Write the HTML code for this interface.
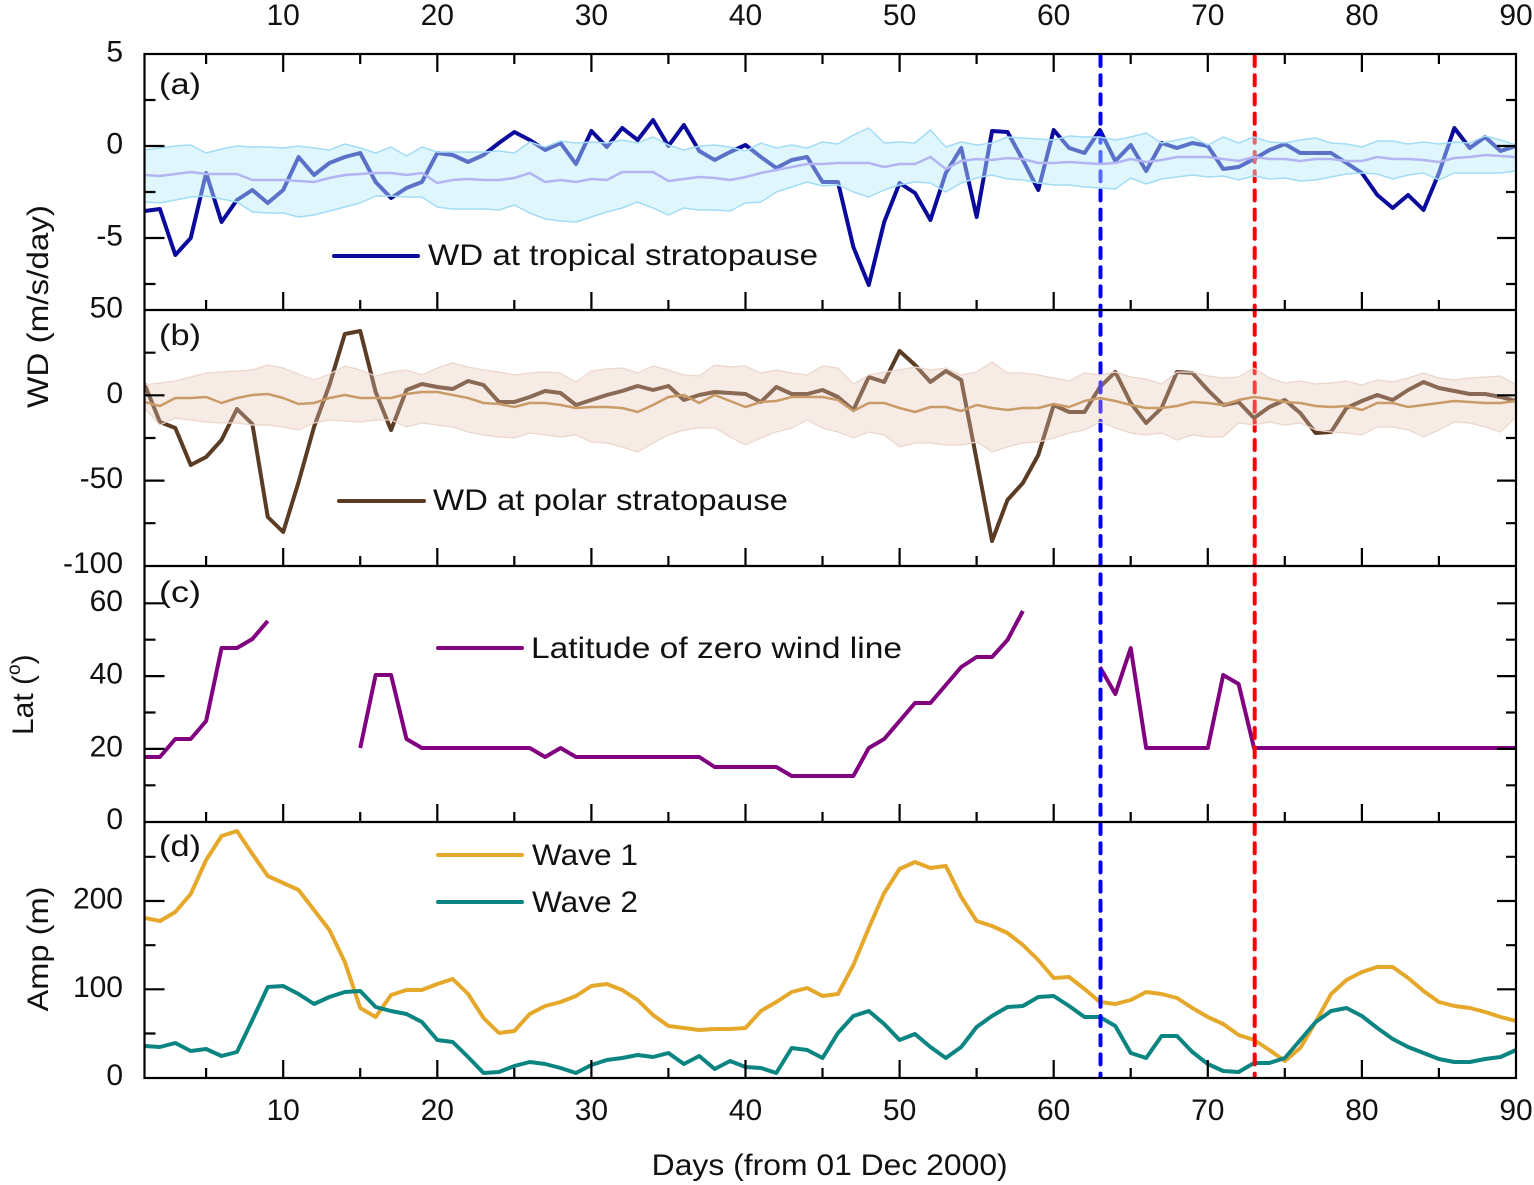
<!DOCTYPE html>
<html><head><meta charset="utf-8"><style>
html,body{margin:0;padding:0;background:#fff}
svg{display:block}
.d{vector-effect:non-scaling-stroke;fill:none;stroke-linejoin:round;stroke-linecap:butt}
text{font-family:"Liberation Sans",Arial,sans-serif;font-size:30px;fill:#111}
</style></head><body>
<svg width="1534" height="1185" viewBox="0 0 1534 1185" xmlns="http://www.w3.org/2000/svg">
<rect width="1534" height="1185" fill="#fff"/>
<defs>
<clipPath id="cp"><rect x="144.5" y="54" width="1371.5" height="1024"/></clipPath>
<g id="bt"><path d="M283.2 0V-18M437.3 0V-18M591.4 0V-18M745.5 0V-18M899.6 0V-18M1053.7 0V-18M1207.8 0V-18M1361.9 0V-18M206.1 0V-10M360.2 0V-10M514.3 0V-10M668.4 0V-10M822.5 0V-10M976.6 0V-10M1130.7 0V-10M1284.8 0V-10M1438.9 0V-10" stroke="#000" stroke-width="2.2" fill="none"/></g>
</defs>

<g clip-path="url(#cp)">
<g transform="matrix(15.41 0 0 1 129.09 0)">
<polyline class="d" stroke="#0a0a9c" stroke-width="4" points="1,211 2,209 3,255 4,238 5,173 6,222 7,200 8,190 9,203 10,190 11,157 12,175 13,163 14,157 15,153 16,182 17,198 18,188 19,182 20,153 21,155 22,162 23,155 24,143 25,132 26,140 27,150 28,143 29,164 30,131 31,147 32,128 33,140 34,120 35,146 36,125 37,151 38,160 39,152 40,145 41,157 42,168 43,160 44,157 45,182 46,182 47,247 48,285 49,222 50,183 51,193 52,220 53,173 54,148 55,217 56,131 57,132 58,160 59,190 60,130 61,148 62,153 63,130 64,161 65,145 66,171 67,143 68,148 69,143 70,146 71,169 72,167 73,159 74,150 75,144 76,153 77,153 78,153 79,163 80,173 81,195 82,208 83,195 84,210 85,173 86,128 87,148 88,137 89,151 90,146"/>
<polyline class="d" stroke="#5a3c24" stroke-width="4" points="1,384 2,422 3,428 4,465 5,457 6,440 7,409 8,424 9,517 10,532 11,482 12,427 13,385 14,334 15,331 16,392 17,430 18,390 19,384 20,387 21,389 22,381 23,385 24,402 25,402 26,397 27,391 28,393 29,405 30,400 31,395 32,391 33,386 34,390 35,386 36,400 37,395 38,392 39,393 40,394 41,402 42,387 43,394 44,394 45,390 46,397 47,410 48,377 49,382 50,351 51,365 52,382 53,371 54,380 55,460 56,541 57,500 58,483 59,455 60,405 61,412 62,412 63,387 64,372 65,403 66,423 67,408 68,372 69,373 70,390 71,405 72,402 73,418 74,407 75,400 76,413 77,433 78,432 79,408 80,401 81,395 82,400 83,390 84,382 85,388 86,391 87,394 88,394 89,397 90,401"/>
<polyline class="d" stroke="#800080" stroke-width="4" points="1,757 2,757 3,739 4,739 5,721 6,648 7,648 8,639 9,621"/>
<polyline class="d" stroke="#800080" stroke-width="4" points="15,748 16,675 17,675 18,739 19,748 20,748 21,748 22,748 23,748 24,748 25,748 26,748 27,757 28,748 29,757 30,757 31,757 32,757 33,757 34,757 35,757 36,757 37,757 38,767 39,767 40,767 41,767 42,767 43,776 44,776 45,776 46,776 47,776 48,748 49,739 50,721 51,703 52,703 53,685 54,667 55,657 56,657 57,640 58,611"/>
<polyline class="d" stroke="#800080" stroke-width="4" points="63,667 64,694 65,648 66,748 67,748 68,748 69,748 70,748 71,675 72,684 73,748 90,748"/>
<polyline class="d" stroke="#e6a82b" stroke-width="4" points="1,918 2,921 3,912 4,894 5,860 6,836 7,831 8,854 9,876 10,883 11,890 12,910 13,930 14,962 15,1008 16,1017 17,995 18,990 19,990 20,984 21,979 22,994 23,1018 24,1033 25,1031 26,1014 27,1006 28,1002 29,996 30,986 31,984 32,990 33,1000 34,1015 35,1026 36,1028 37,1030 38,1029 39,1029 40,1028 41,1011 42,1002 43,992 44,988 45,996 46,994 47,965 48,928 49,893 50,869 51,862 52,868 53,866 54,897 55,921 56,926 57,933 58,945 59,960 60,978 61,977 62,989 63,1002 64,1004 65,1000 66,992 67,994 68,998 69,1008 70,1017 71,1024 72,1035 73,1040 74,1050 75,1061 76,1048 77,1022 78,994 79,980 80,972 81,967 82,967 83,978 84,991 85,1002 86,1006 87,1008 88,1012 89,1017 90,1021"/>
<polyline class="d" stroke="#0b8582" stroke-width="4" points="1,1046 2,1047 3,1043 4,1051 5,1049 6,1056 7,1052 8,1020 9,987 10,986 11,994 12,1004 13,997 14,992 15,991 16,1007 17,1011 18,1014 19,1022 20,1040 21,1042 22,1057 23,1073 24,1072 25,1066 26,1062 27,1064 28,1068 29,1073 30,1065 31,1060 32,1058 33,1055 34,1057 35,1053 36,1064 37,1056 38,1069 39,1061 40,1067 41,1068 42,1073 43,1048 44,1050 45,1058 46,1033 47,1016 48,1011 49,1024 50,1040 51,1034 52,1047 53,1058 54,1047 55,1027 56,1016 57,1007 58,1006 59,997 60,996 61,1006 62,1017 63,1017 64,1026 65,1053 66,1058 67,1036 68,1036 69,1052 70,1064 71,1071 72,1072 73,1063 74,1063 75,1058 76,1040 77,1022 78,1011 79,1008 80,1016 81,1028 82,1039 83,1047 84,1053 85,1059 86,1062 87,1062 88,1059 89,1057 90,1050"/>
</g>

<line x1="1100.5" y1="56" x2="1100.5" y2="1078" stroke="#0000ff" stroke-width="4" stroke-dasharray="10 9.2" stroke-linecap="round"/>
<line x1="1254.7" y1="56" x2="1254.7" y2="1078" stroke="#ff0000" stroke-width="4" stroke-dasharray="10 9.2" stroke-linecap="round"/>

<g transform="matrix(15.41 0 0 1 129.09 0)">
<polygon fill="rgb(185,235,250)" fill-opacity="0.46" stroke="none" points="1,150 2,148 3,146 4,145 5,153 6,149 7,146 8,147 9,147 10,148 11,146 12,148 13,150 14,144 15,148 16,153 17,147 18,156 19,147 20,152 21,152 22,152 23,152 24,151 25,153 26,142 27,147 28,141 29,143 30,142 31,143 32,140 33,143 34,137 35,145 36,150 37,146 38,145 39,147 40,151 41,143 42,148 43,145 44,148 45,142 46,144 47,135 48,128 49,143 50,142 51,143 52,130 53,147 54,142 55,145 56,143 57,137 58,138 59,139 60,140 61,136 62,137 63,137 64,140 65,137 66,133 67,143 68,140 69,137 70,145 71,137 72,143 73,137 74,142 75,143 76,140 77,138 78,143 79,144 80,147 81,141 82,141 83,144 84,142 85,144 86,142 87,143 88,136 89,140 90,145 90,171 89,173 88,173 87,173 86,173 85,180 84,173 83,175 82,179 81,174 80,173 79,174 78,177 77,180 76,181 75,178 74,179 73,176 72,180 71,176 70,177 69,175 68,177 67,179 66,184 65,178 64,189 63,188 62,187 61,185 60,185 59,183 58,180 57,179 56,175 55,178 54,183 53,192 52,183 51,182 50,185 49,190 48,197 47,192 46,185 45,186 44,182 43,187 42,192 41,202 40,203 39,211 38,210 37,210 36,208 35,215 34,208 33,202 32,208 31,212 30,217 29,222 28,221 27,219 26,213 25,205 24,210 23,209 22,209 21,209 20,207 19,197 18,197 17,196 16,196 15,203 14,207 13,211 12,215 11,217 10,213 9,213 8,212 7,202 6,199 5,196 4,197 3,200 2,203 1,202"/>
<polyline class="d" stroke="#a3dcf5" stroke-width="1.5" points="1,150 2,148 3,146 4,145 5,153 6,149 7,146 8,147 9,147 10,148 11,146 12,148 13,150 14,144 15,148 16,153 17,147 18,156 19,147 20,152 21,152 22,152 23,152 24,151 25,153 26,142 27,147 28,141 29,143 30,142 31,143 32,140 33,143 34,137 35,145 36,150 37,146 38,145 39,147 40,151 41,143 42,148 43,145 44,148 45,142 46,144 47,135 48,128 49,143 50,142 51,143 52,130 53,147 54,142 55,145 56,143 57,137 58,138 59,139 60,140 61,136 62,137 63,137 64,140 65,137 66,133 67,143 68,140 69,137 70,145 71,137 72,143 73,137 74,142 75,143 76,140 77,138 78,143 79,144 80,147 81,141 82,141 83,144 84,142 85,144 86,142 87,143 88,136 89,140 90,145"/>
<polyline class="d" stroke="#a3dcf5" stroke-width="1.5" points="90,171 89,173 88,173 87,173 86,173 85,180 84,173 83,175 82,179 81,174 80,173 79,174 78,177 77,180 76,181 75,178 74,179 73,176 72,180 71,176 70,177 69,175 68,177 67,179 66,184 65,178 64,189 63,188 62,187 61,185 60,185 59,183 58,180 57,179 56,175 55,178 54,183 53,192 52,183 51,182 50,185 49,190 48,197 47,192 46,185 45,186 44,182 43,187 42,192 41,202 40,203 39,211 38,210 37,210 36,208 35,215 34,208 33,202 32,208 31,212 30,217 29,222 28,221 27,219 26,213 25,205 24,210 23,209 22,209 21,209 20,207 19,197 18,197 17,196 16,196 15,203 14,207 13,211 12,215 11,217 10,213 9,213 8,212 7,202 6,199 5,196 4,197 3,200 2,203 1,202"/>
<polyline class="d" stroke="#b3b5f3" stroke-width="2.5" points="1,175 2,176 3,174 4,172 5,174 6,174 7,174 8,180 9,180 10,180 11,181 12,182 13,178 14,175 15,174 16,173 17,173 18,175 19,173 20,183 21,180 22,179 23,180 24,180 25,178 26,173 27,182 28,180 29,182 30,179 31,180 32,172 33,172 34,172 35,181 36,179 37,177 38,178 39,180 40,177 41,173 42,170 43,167 44,164 45,164 46,163 47,163 48,163 49,167 50,164 51,164 52,157 53,169 54,161 55,159 56,160 57,158 58,159 59,163 60,163 61,162 62,163 63,164 64,163 65,159 66,162 67,160 68,157 69,157 70,157 71,159 72,161 73,157 74,159 75,159 76,161 77,159 78,159 79,161 80,161 81,157 82,159 83,159 84,160 85,162 86,158 87,157 88,155 89,156 90,157"/>

<polygon fill="rgb(231,196,178)" fill-opacity="0.34" stroke="none" points="1,385 2,383 3,381 4,377 5,373 6,372 7,371 8,370 9,365 10,368 11,374 12,380 13,374 14,366 15,370 16,376 17,372 18,370 19,375 20,368 21,363 22,367 23,370 24,372 25,375 26,373 27,372 28,373 29,382 30,371 31,369 32,368 33,373 34,366 35,370 36,375 37,376 38,365 39,367 40,366 41,373 42,370 43,373 44,375 45,366 46,368 47,384 48,375 49,372 50,370 51,367 52,370 53,368 54,375 55,372 56,362 57,373 58,373 59,375 60,378 61,381 62,373 63,375 64,372 65,377 66,379 67,384 68,372 69,372 70,376 71,378 72,377 73,368 74,378 75,383 76,381 77,384 78,383 79,381 80,385 81,380 82,382 83,378 84,373 85,378 86,380 87,378 88,377 89,376 90,385 90,417 89,432 88,427 87,423 86,422 85,430 84,437 83,430 82,427 81,427 80,435 79,433 78,432 77,430 76,423 75,425 74,422 73,425 72,423 71,437 70,437 69,435 68,440 67,433 66,435 65,433 64,428 63,422 62,430 61,433 60,438 59,442 58,443 57,447 56,452 55,442 54,445 53,445 52,443 51,443 50,447 49,435 48,432 47,438 46,432 45,428 44,420 43,428 42,432 41,438 40,445 39,437 38,428 37,428 36,430 35,435 34,443 33,452 32,447 31,443 30,442 29,435 28,437 27,435 26,433 25,438 24,437 23,435 22,432 21,427 20,425 19,423 18,427 17,420 16,420 15,422 14,421 13,420 12,423 11,430 10,427 9,425 8,425 7,423 6,423 5,422 4,420 3,418 2,425 1,408"/>
<polyline class="d" stroke="#ecd6cc" stroke-width="1.2" points="1,385 2,383 3,381 4,377 5,373 6,372 7,371 8,370 9,365 10,368 11,374 12,380 13,374 14,366 15,370 16,376 17,372 18,370 19,375 20,368 21,363 22,367 23,370 24,372 25,375 26,373 27,372 28,373 29,382 30,371 31,369 32,368 33,373 34,366 35,370 36,375 37,376 38,365 39,367 40,366 41,373 42,370 43,373 44,375 45,366 46,368 47,384 48,375 49,372 50,370 51,367 52,370 53,368 54,375 55,372 56,362 57,373 58,373 59,375 60,378 61,381 62,373 63,375 64,372 65,377 66,379 67,384 68,372 69,372 70,376 71,378 72,377 73,368 74,378 75,383 76,381 77,384 78,383 79,381 80,385 81,380 82,382 83,378 84,373 85,378 86,380 87,378 88,377 89,376 90,385"/>
<polyline class="d" stroke="#ecd6cc" stroke-width="1.2" points="1,408 2,425 3,418 4,420 5,422 6,423 7,423 8,425 9,425 10,427 11,430 12,423 13,420 14,421 15,422 16,420 17,420 18,427 19,423 20,425 21,427 22,432 23,435 24,437 25,438 26,433 27,435 28,437 29,435 30,442 31,443 32,447 33,452 34,443 35,435 36,430 37,428 38,428 39,437 40,445 41,438 42,432 43,428 44,420 45,428 46,432 47,438 48,432 49,435 50,447 51,443 52,443 53,445 54,445 55,442 56,452 57,447 58,443 59,442 60,438 61,433 62,430 63,422 64,428 65,433 66,435 67,433 68,440 69,435 70,437 71,437 72,423 73,425 74,422 75,425 76,423 77,430 78,432 79,433 80,435 81,427 82,427 83,430 84,437 85,430 86,422 87,423 88,427 89,432 90,417"/>
<polyline class="d" stroke="#c99b68" stroke-width="2.5" points="1,402 2,406 3,398 4,398 5,397 6,403 7,398 8,395 9,394 10,398 11,404 12,403 13,398 14,395 15,398 16,398 17,398 18,394 19,392 20,392 21,395 22,398 23,403 24,404 25,407 26,403 27,403 28,405 29,408 30,407 31,407 32,408 33,412 34,405 35,397 36,395 37,403 38,395 39,401 40,407 41,402 42,401 43,397 44,397 45,397 46,400 47,411 48,403 49,403 50,408 51,412 52,407 53,407 54,411 55,405 56,408 57,410 58,408 59,408 60,404 61,407 62,401 63,398 64,401 65,405 66,408 67,408 68,406 69,402 70,403 71,405 72,400 73,397 74,399 75,402 76,403 77,406 78,407 79,406 80,410 81,403 82,403 83,407 84,405 85,403 86,401 87,402 88,403 89,403 90,401"/>
</g>
</g>

<g stroke="#000" stroke-width="2.2" fill="none">
<rect x="144.5" y="54" width="1371.5" height="1024"/>
<path d="M144.5 310H1516M144.5 566H1516M144.5 822H1516"/>
<path d="M283.2 54V72M437.3 54V72M591.4 54V72M745.5 54V72M899.6 54V72M1053.7 54V72M1207.8 54V72M1361.9 54V72M206.1 54V64M360.2 54V64M514.3 54V64M668.4 54V64M822.5 54V64M976.6 54V64M1130.7 54V64M1284.8 54V64M1438.9 54V64"/>
<path d="M144.5 146H164.5M144.5 238H164.5M144.5 100H155.5M144.5 192H155.5M144.5 284H155.5
M1516 146H1497M1516 238H1497M1516 100H1506M1516 192H1506M1516 284H1506
M144.5 395.3H164.5M144.5 480.6H164.5M144.5 352.7H155.5M144.5 438H155.5M144.5 523.2H155.5
M1516 395.3H1497M1516 480.6H1497M1516 352.7H1506M1516 438H1506M1516 523.2H1506
M144.5 603.3H164.5M144.5 676.1H164.5M144.5 748.9H164.5M144.5 639.7H155.5M144.5 712.5H155.5M144.5 785.3H155.5
M1516 603.3H1497M1516 676.1H1497M1516 748.9H1497M1516 639.7H1506M1516 712.5H1506M1516 785.3H1506
M144.5 901H164.5M144.5 989.3H164.5M144.5 856.8H155.5M144.5 945.2H155.5M144.5 1033.5H155.5
M1516 901H1497M1516 989.3H1497M1516 856.8H1506M1516 945.2H1506M1516 1033.5H1506"/>
</g>
<use href="#bt" y="310"/>
<use href="#bt" y="566"/>
<use href="#bt" y="822"/>
<use href="#bt" y="1078"/>

<g text-anchor="middle">
<text x="283.2" y="25">10</text><text x="437.3" y="25">20</text><text x="591.4" y="25">30</text><text x="745.5" y="25">40</text><text x="899.6" y="25">50</text><text x="1053.7" y="25">60</text><text x="1207.8" y="25">70</text><text x="1361.9" y="25">80</text><text x="1516" y="25">90</text>
<text x="283.2" y="1120">10</text><text x="437.3" y="1120">20</text><text x="591.4" y="1120">30</text><text x="745.5" y="1120">40</text><text x="899.6" y="1120">50</text><text x="1053.7" y="1120">60</text><text x="1207.8" y="1120">70</text><text x="1361.9" y="1120">80</text><text x="1516" y="1120">90</text>
</g>
<g text-anchor="end">
<text x="123" y="61.5">5</text>
<text x="123" y="153.5">0</text>
<text x="123" y="245.5">-5</text>
<text x="123" y="317.5">50</text>
<text x="123" y="402.8">0</text>
<text x="123" y="488">-50</text>
<text x="123" y="573">-100</text>
<text x="123" y="610.8">60</text>
<text x="123" y="683.5">40</text>
<text x="123" y="756.4">20</text>
<text x="123" y="829">0</text>
<text x="123" y="908.5">200</text>
<text x="123" y="996.8">100</text>
<text x="123" y="1085">0</text>
</g>

<text x="159" y="94" font-size="32" textLength="42" lengthAdjust="spacingAndGlyphs">(a)</text>
<text x="159" y="345" font-size="32" textLength="42" lengthAdjust="spacingAndGlyphs">(b)</text>
<text x="159" y="602" font-size="32" textLength="42" lengthAdjust="spacingAndGlyphs">(c)</text>
<text x="159" y="856" font-size="32" textLength="42" lengthAdjust="spacingAndGlyphs">(d)</text>

<line x1="334" y1="256" x2="418" y2="256" stroke="#0a0a9c" stroke-width="4" stroke-linecap="round"/>
<text x="428" y="265" textLength="390" lengthAdjust="spacingAndGlyphs">WD at tropical stratopause</text>
<line x1="339" y1="501" x2="424" y2="501" stroke="#5a3c24" stroke-width="4" stroke-linecap="round"/>
<text x="433" y="510" textLength="355" lengthAdjust="spacingAndGlyphs">WD at polar stratopause</text>
<line x1="438" y1="648" x2="522" y2="648" stroke="#800080" stroke-width="4" stroke-linecap="round"/>
<text x="531" y="658" textLength="371" lengthAdjust="spacingAndGlyphs">Latitude of zero wind line</text>
<line x1="438" y1="855" x2="522" y2="855" stroke="#e6a82b" stroke-width="4" stroke-linecap="round"/>
<text x="532" y="865" textLength="106" lengthAdjust="spacingAndGlyphs">Wave 1</text>
<line x1="438" y1="902" x2="522" y2="902" stroke="#0b8582" stroke-width="4" stroke-linecap="round"/>
<text x="532" y="912" textLength="106" lengthAdjust="spacingAndGlyphs">Wave 2</text>

<text x="651.7" y="1175" textLength="356" lengthAdjust="spacingAndGlyphs">Days (from 01 Dec 2000)</text>
<text transform="translate(48,306.5) rotate(-90)" text-anchor="middle" textLength="203" lengthAdjust="spacingAndGlyphs">WD (m/s/day)</text>
<text transform="translate(48,949) rotate(-90)" text-anchor="middle" textLength="125" lengthAdjust="spacingAndGlyphs">Amp (m)</text>
<text transform="translate(33,735) rotate(-90)">Lat (<tspan font-size="19" dy="-13">o</tspan><tspan dy="13">)</tspan></text>
</svg>
</body></html>
